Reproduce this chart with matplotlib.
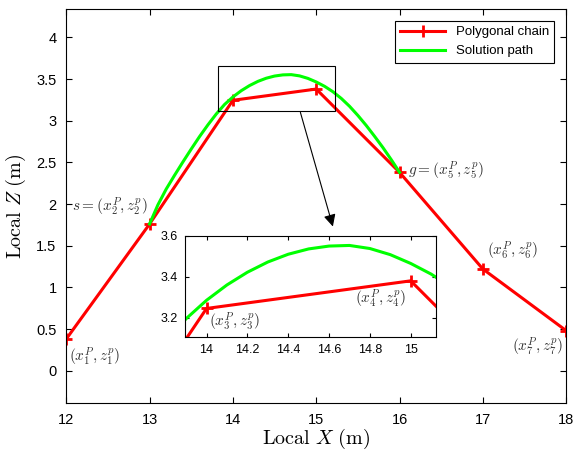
import matplotlib.pyplot as plt

plt.rcParams['font.family'] = ['Liberation Sans', 'DejaVu Sans']
plt.rcParams['mathtext.fontset'] = 'cm'

# polygonal chain vertices
chain_x = [12, 13, 14, 15, 16, 17, 18]
chain_z = [0.38, 1.76, 3.245, 3.38, 2.38, 1.22, 0.48]

# solution path
path_x = [13.0, 13.1, 13.2, 13.3, 13.4, 13.5, 13.6, 13.7, 13.8, 13.9,
          14.0, 14.1, 14.2, 14.3, 14.4, 14.5, 14.6, 14.7, 14.8, 14.9,
          15.0, 15.1, 15.2, 15.3, 15.4, 15.5, 15.6, 15.7, 15.8, 15.9, 16.0]
path_z = [1.76, 1.99, 2.18, 2.345, 2.505, 2.66, 2.81, 2.95, 3.08, 3.195,
          3.285, 3.36, 3.422, 3.472, 3.51, 3.536, 3.55, 3.553, 3.538, 3.508,
          3.465, 3.413, 3.348, 3.268, 3.173, 3.063, 2.943, 2.813, 2.678, 2.533, 2.38]

labels = [r'$(x_1^P,z_1^p)$', r'$s=(x_2^P,z_2^p)$', r'$(x_3^P,z_3^p)$',
          r'$(x_4^P,z_4^p)$', r'$g=(x_5^P,z_5^p)$', r'$(x_6^P,z_6^p)$',
          r'$(x_7^P,z_7^p)$']

red = (1, 0, 0)
green = (0, 1, 0)

fig = plt.figure(figsize=(5.76, 4.53), dpi=100)
ax = fig.add_axes([0.115, 0.110, 0.868, 0.870])

ax.plot(chain_x, chain_z, color=red, lw=2.2, marker='+', ms=8, mew=2,
        label='Polygonal chain')
ax.plot(path_x, path_z, color=green, lw=2.2, label='Solution path')

ax.set_xlim(12, 18)
ax.set_ylim(-0.39, 4.34)
ax.set_xticks(range(12, 19))
ax.set_yticks([0, 0.5, 1, 1.5, 2, 2.5, 3, 3.5, 4])
ax.set_yticklabels(['0', '0.5', '1', '1.5', '2', '2.5', '3', '3.5', '4'])
ax.tick_params(direction='in', top=True, right=True, labelsize=10.5,
               length=4, pad=7)
ax.set_xlabel(r'$\mathrm{Local}\ X\ \mathrm{(m)}$', fontsize=14.5, labelpad=0)
ax.set_ylabel(r'$\mathrm{Local}\ Z\ \mathrm{(m)}$', fontsize=14.5, labelpad=6)

# point labels on the main axes
tcol = '#333333'
fs = 11
ax.text(12.03, 0.30, labels[0], fontsize=fs, color=tcol, va='top', ha='left')
ax.text(12.98, 1.83, labels[1], fontsize=fs, color=tcol, va='bottom', ha='right')
ax.text(16.1, 2.40, labels[4], fontsize=fs, color=tcol, va='center', ha='left')
ax.text(17.05, 1.30, labels[5], fontsize=fs, color=tcol, va='bottom', ha='left')
ax.text(17.97, 0.42, labels[6], fontsize=fs, color=tcol, va='top', ha='right')

# zoom box and arrow
ax.add_patch(plt.Rectangle((13.82, 3.115), 1.40, 0.545, fill=False,
                           ec='black', lw=0.8, zorder=5))
ax.annotate('', xy=(15.2, 1.73), xytext=(14.81, 3.10),
            arrowprops=dict(arrowstyle='-|>', color='black', lw=0.8,
                            mutation_scale=18, shrinkA=0, shrinkB=0))

leg = ax.legend(loc='upper right', fontsize=9.5, fancybox=False,
                edgecolor='black', framealpha=1, borderaxespad=0.9,
                handlelength=3.4)
leg.get_frame().set_linewidth(0.8)

# inset
axin = fig.add_axes([0.321, 0.2554, 0.436, 0.224])
axin.plot(chain_x, chain_z, color=red, lw=2.2, marker='+', ms=8, mew=2)
axin.plot(path_x, path_z, color=green, lw=2.2)
axin.set_xlim(13.894, 15.124)
axin.set_ylim(3.104, 3.6)
axin.set_xticks([14, 14.2, 14.4, 14.6, 14.8, 15])
axin.set_xticklabels(['14', '14.2', '14.4', '14.6', '14.8', '15'])
axin.set_yticks([3.2, 3.4, 3.6])
axin.tick_params(direction='in', top=True, right=True, labelsize=9,
                 length=3, pad=5)
axin.text(14.01, 3.235, labels[2], fontsize=fs, color=tcol, va='top', ha='left')
axin.text(14.98, 3.345, labels[3], fontsize=fs, color=tcol, va='top', ha='right')

plt.savefig('out.png', dpi=100)
